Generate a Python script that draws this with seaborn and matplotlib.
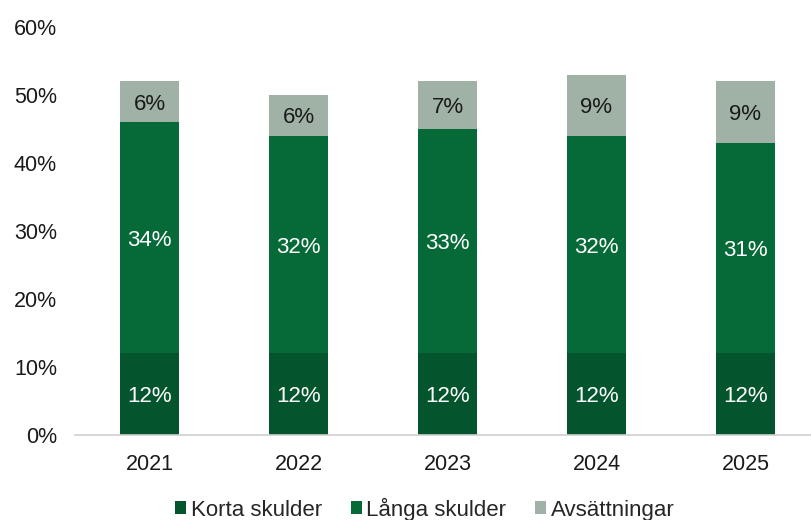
import matplotlib
matplotlib.use("Agg")
import matplotlib.pyplot as plt
import seaborn as sns
import pandas as pd
import numpy as np
from matplotlib.patches import Patch

years = ["2021", "2022", "2023", "2024", "2025"]
korta = [12, 12, 12, 12, 12]
langa = [34, 32, 33, 32, 31]
avs = [6, 6, 7, 9, 9]
series_names = ["Korta skulder", "Långa skulder", "Avsättningar"]
colors = ["#04552d", "#066a38", "#a0b2a6"]

sns.set_theme(style="white")
plt.rcParams["font.family"] = ["Liberation Sans", "DejaVu Sans"]

df = pd.DataFrame({"year": years, "korta": korta, "langa": langa, "avs": avs})
df["c1"] = df["korta"] / 100
df["c2"] = (df["korta"] + df["langa"]) / 100
df["c3"] = (df["korta"] + df["langa"] + df["avs"]) / 100

fig = plt.figure(figsize=(8.11, 5.2), dpi=100)
ax = fig.add_axes([75 / 811, 85 / 520, (811 - 75) / 811, 408 / 520])

for col, c in zip(["c3", "c2", "c1"], colors[::-1]):
    sns.barplot(data=df, x="year", y=col, color=c, width=0.4, ax=ax,
                saturation=1, linewidth=0)

fs_bar = 16
for i in range(len(years)):
    ax.text(i, df["c1"][i] / 2, f"{korta[i]}%", ha="center", va="center_baseline",
            color="white", fontsize=fs_bar)
    ax.text(i, (df["c1"][i] + df["c2"][i]) / 2, f"{langa[i]}%", ha="center",
            va="center_baseline", color="white", fontsize=fs_bar)
    ax.text(i, (df["c2"][i] + df["c3"][i]) / 2, f"{avs[i]}%", ha="center",
            va="center_baseline", color="#1a1a1a", fontsize=fs_bar)

ax.set_ylim(0, 0.6)
ax.set_xlim(-0.5, 4.44)
ax.set_yticks(np.arange(0, 0.61, 0.1))
ax.set_yticklabels([f"{int(round(v * 100))}%" for v in np.arange(0, 0.61, 0.1)])
ax.set_xlabel("")
ax.set_ylabel("")
ax.tick_params(axis="both", length=0, labelsize=15.5, colors="#1a1a1a")
ax.tick_params(axis="y", pad=13)
ax.tick_params(axis="x", pad=14)
for s in ["top", "right", "left"]:
    ax.spines[s].set_visible(False)
ax.spines["bottom"].set_color("#d0d0d0")
ax.spines["bottom"].set_linewidth(1.2)

handles = [Patch(facecolor=c, edgecolor="none", label=n) for c, n in zip(colors, series_names)]
fig.legend(handles=handles, loc="center", bbox_to_anchor=(0.524, 1 - 509 / 520),
           ncol=3, frameon=False, fontsize=16, handlelength=0.5, handleheight=0.5,
           handletextpad=0.2, columnspacing=1.3)

fig.savefig("out.png", dpi=100)
